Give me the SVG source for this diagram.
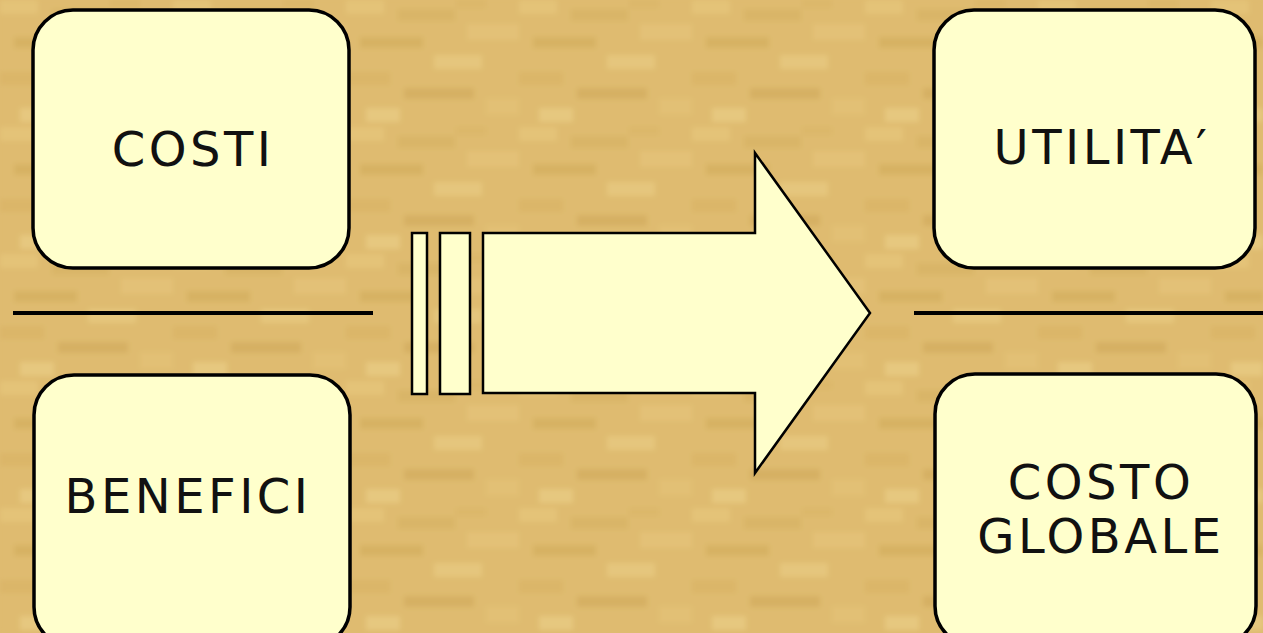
<svg xmlns="http://www.w3.org/2000/svg" width="1263" height="633" viewBox="0 0 1263 633">
<style>
.box{fill:#ffffcc;stroke:#000;stroke-width:3.5}
.shape{fill:#ffffcc;stroke:#000;stroke-width:2.5}
.rule{stroke:#000;stroke-width:4}
.lbl{font-family:"DejaVu Sans",sans-serif;font-size:48px;fill:#111;text-anchor:middle;letter-spacing:3.5px}
</style>
<defs>
<pattern id="tex" width="173" height="127" patternUnits="userSpaceOnUse">
<rect width="173" height="127" fill="#dfbb6f"/>
<rect x="0" y="0" width="38" height="14" fill="#e4c378"/>
<rect x="52" y="9" width="57" height="12" fill="#d9b567"/>
<rect x="121" y="24" width="52" height="16" fill="#e3c177"/>
<rect x="14" y="37" width="63" height="11" fill="#d7b264"/>
<rect x="88" y="55" width="48" height="14" fill="#e5c67d"/>
<rect x="0" y="72" width="44" height="13" fill="#dbb669"/>
<rect x="58" y="88" width="70" height="11" fill="#d6b063"/>
<rect x="140" y="98" width="33" height="17" fill="#e2c075"/>
<rect x="20" y="108" width="34" height="14" fill="#e6c87f"/>
<rect x="110" y="0" width="30" height="8" fill="#dcb76b"/>
</pattern>
<filter id="soft" x="0" y="0" width="1" height="1"><feGaussianBlur stdDeviation="2.5"/></filter>
</defs>
<rect width="1263" height="633" fill="#dfbb6f"/>
<rect width="1263" height="633" fill="url(#tex)" filter="url(#soft)"/>
<g id="connectors">
<line class="rule" x1="13" y1="313" x2="373" y2="313"/>
<line class="rule" x1="914" y1="313" x2="1263" y2="313"/>
</g>
<g id="costi">
<rect class="box" x="33" y="10" width="316" height="258" rx="40"/>
<text class="lbl" x="193" y="166">COSTI</text>
</g>
<g id="benefici">
<rect class="box" x="34" y="375" width="316" height="272" rx="40"/>
<text class="lbl" x="188" y="513">BENEFICI</text>
</g>
<g id="utilita">
<rect class="box" x="934" y="10" width="321" height="258" rx="40"/>
<text class="lbl" x="1102" y="164">UTILITA′</text>
</g>
<g id="costo-globale">
<rect class="box" x="935" y="374" width="321" height="272" rx="40"/>
<text class="lbl" x="1101" y="499">COSTO</text>
<text class="lbl" x="1101" y="553">GLOBALE</text>
</g>
<g id="arrow">
<rect class="shape" x="412" y="233" width="15" height="161"/>
<rect class="shape" x="440" y="233" width="30" height="161"/>
<polygon class="shape" points="483,233 755,233 755,153 870,313 755,473 755,393 483,393"/>
</g>
</svg>
